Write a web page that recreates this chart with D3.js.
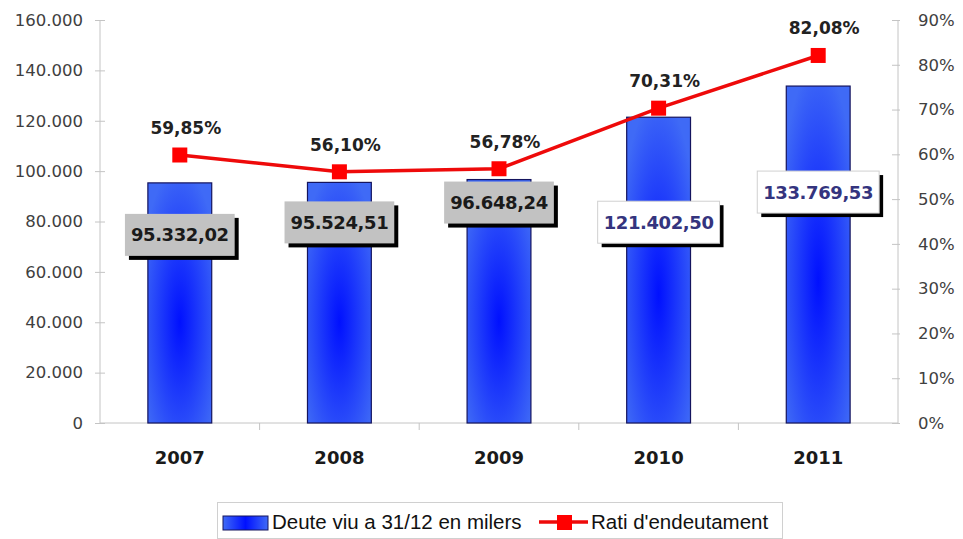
<!DOCTYPE html>
<html lang="ca">
<head>
  <meta charset="UTF-8">
  <title>Deute viu i rati d'endeutament</title>
  <script src="https://d3js.org/d3.v7.min.js"></script>
  <style>
    body { margin: 0; background: #fff; }
    .tick text { font-family: "DejaVu Sans", sans-serif; font-size: 16.5px; fill: #404040; }
    .x-axis .tick text { font-weight: bold; font-size: 18px; fill: #1a1a1a; }
    .domain, .tick line { stroke: #c4c4c4; }
  </style>
</head>
<body>
  <div id="chart"></div>
  <script>
    // data
    const years = ["2007", "2008", "2009", "2010", "2011"];
    const debt = [95332.02, 95524.51, 96648.24, 121402.50, 133769.53];
    const ratio = [59.85, 56.10, 56.78, 70.31, 82.08];
    const debtTicks = [0, 20000, 40000, 60000, 80000, 100000, 120000, 140000, 160000];
    const ratioTicks = [0, 10, 20, 30, 40, 50, 60, 70, 80, 90];

    const W = 963, H = 539;
    const plot = { left: 100, right: 898, top: 20, bottom: 423 };

    const ca = d3.formatLocale({ decimal: ",", thousands: ".", grouping: [3], currency: ["", " €"] });
    const fmtTick = ca.format(",.0f"), fmtVal = ca.format(",.2f"), fmtPct = ca.format(".2f");

    const svg = d3.select("#chart").append("svg")
      .attr("width", W).attr("height", H);

    const defs = svg.append("defs");
    const grad = defs.append("radialGradient").attr("id", "barGrad")
      .attr("cx", "50%").attr("cy", "58%").attr("r", "65%");
    grad.append("stop").attr("offset", "0%").attr("stop-color", "#0010ff");
    grad.append("stop").attr("offset", "100%").attr("stop-color", "#3f6af6");
    const lgrad = defs.append("linearGradient").attr("id", "legGrad")
      .attr("x1", "0").attr("x2", "1").attr("y1", "0").attr("y2", "0");
    lgrad.append("stop").attr("offset", "0%").attr("stop-color", "#3f6af6");
    lgrad.append("stop").attr("offset", "50%").attr("stop-color", "#0010ff");
    lgrad.append("stop").attr("offset", "100%").attr("stop-color", "#3f6af6");

    // scales
    const x = d3.scaleBand().domain(years).range([plot.left, plot.right]).padding(0);
    const y = d3.scaleLinear().domain([0, 160000]).range([plot.bottom, plot.top]);
    const y2 = d3.scaleLinear().domain([0, 90]).range([plot.bottom, plot.top]);

    // left axis
    const gl = svg.append("g").attr("transform", `translate(${plot.left},0)`)
      .call(d3.axisLeft(y).tickValues(debtTicks).tickFormat(fmtTick).tickSize(5).tickPadding(12));
    gl.selectAll(".tick line").attr("x2", 5).attr("x1", -5);
    gl.select(".domain").attr("d", `M0,${plot.top}V${plot.bottom}`);

    // right axis
    const gr = svg.append("g").attr("transform", `translate(${plot.right},0)`)
      .call(d3.axisRight(y2).tickValues(ratioTicks).tickFormat(d => d + "%").tickSize(5).tickPadding(15));
    gr.selectAll(".tick line").attr("x1", -6).attr("x2", 2);
    gr.select(".domain").attr("d", `M0,${plot.top}V${plot.bottom}`);

    // x axis with separators between categories
    const gx = svg.append("g").attr("class", "x-axis").attr("transform", `translate(0,${plot.bottom})`)
      .call(d3.axisBottom(x).tickSize(0).tickPadding(28));
    gx.select(".domain").attr("d", `M${plot.left},0H${plot.right}`);
    gx.selectAll(".sep").data(years.slice(1)).enter().append("line")
      .attr("class", "sep").attr("stroke", "#c4c4c4")
      .attr("x1", d => x(d)).attr("x2", d => x(d)).attr("y1", 0).attr("y2", 7);

    // bars
    const bw = x.bandwidth() * 0.4;
    svg.selectAll(".bar").data(debt).enter().append("rect")
      .attr("class", "bar")
      .attr("x", (d, i) => x(years[i]) + (x.bandwidth() - bw) / 2)
      .attr("y", d => y(d))
      .attr("width", bw)
      .attr("height", d => plot.bottom - y(d))
      .attr("fill", "url(#barGrad)")
      .attr("stroke", "#14145e").attr("stroke-width", 1.2);

    // line
    const line = d3.line().x((d, i) => x(years[i]) + x.bandwidth() / 2).y(d => y2(d));
    svg.append("path").datum(ratio).attr("d", line)
      .attr("fill", "none").attr("stroke", "#ee0a0a").attr("stroke-width", 3.5);
    const ms = 15;
    svg.selectAll(".mk").data(ratio).enter().append("rect")
      .attr("x", (d, i) => x(years[i]) + x.bandwidth() / 2 - ms / 2)
      .attr("y", d => y2(d) - ms / 2)
      .attr("width", ms).attr("height", ms).attr("fill", "#ff0000");

    // percentage labels
    svg.selectAll(".pct").data(ratio).enter().append("text")
      .attr("x", (d, i) => x(years[i]) + x.bandwidth() / 2 + 6)
      .attr("y", d => y2(d) - 27)
      .attr("dy", "0.35em").attr("text-anchor", "middle")
      .style("font-family", "DejaVu Sans, sans-serif").style("font-weight", "bold")
      .style("font-size", "17px").style("fill", "#222")
      .text(d => fmtPct(d) + "%");

    // value labels (boxes with shadow), drop below bar top
    const drop = [52, 40, 23, 105, 106];
    const bh = 42;
    debt.forEach((d, i) => {
      const cx = x(years[i]) + x.bandwidth() / 2;
      const cy = y(d) + drop[i];
      const white = i >= 3;
      const g = svg.append("g");
      const t = g.append("text")
        .attr("x", cx).attr("y", cy).attr("dy", "0.36em").attr("text-anchor", "middle")
        .style("font-family", "DejaVu Sans, sans-serif").style("font-weight", "bold")
        .style("font-size", "18px").style("letter-spacing", "-0.4px")
        .style("fill", white ? "#34347e" : "#1a1a1a")
        .text(fmtVal(d));
      const tw = t.node().getComputedTextLength() + 12;
      g.insert("rect", "text").attr("x", cx - tw / 2 + 4).attr("y", cy - bh / 2 + 4)
        .attr("width", tw).attr("height", bh).attr("fill", "#000");
      g.insert("rect", "text").attr("x", cx - tw / 2).attr("y", cy - bh / 2)
        .attr("width", tw).attr("height", bh)
        .attr("fill", white ? "#fff" : "#c2c2c2")
        .attr("stroke", white ? "#d0d0d0" : "none");
    });

    // legend
    const lg = svg.append("g");
    lg.append("rect").attr("x", 217.5).attr("y", 502.5).attr("width", 565).attr("height", 36)
      .attr("fill", "#fff").attr("stroke", "#d0d0d0");
    lg.append("rect").attr("x", 223).attr("y", 516).attr("width", 45).attr("height", 14)
      .attr("fill", "url(#legGrad)").attr("stroke", "#14145e");
    lg.append("text").attr("x", 272).attr("y", 522).attr("dy", "0.35em")
      .style("font-family", "Liberation Sans, Arial, sans-serif").style("font-size", "20.5px").style("fill", "#111")
      .text("Deute viu a 31/12 en milers");
    lg.append("line").attr("x1", 539).attr("x2", 588).attr("y1", 522).attr("y2", 522)
      .attr("stroke", "#ee0a0a").attr("stroke-width", 3.5);
    lg.append("rect").attr("x", 557).attr("y", 515).attr("width", 15).attr("height", 15).attr("fill", "#ff0000");
    lg.append("text").attr("x", 591).attr("y", 522).attr("dy", "0.35em")
      .style("font-family", "Liberation Sans, Arial, sans-serif").style("font-size", "20.5px").style("fill", "#111")
      .text("Rati d'endeutament");
  </script>
</body>
</html>
